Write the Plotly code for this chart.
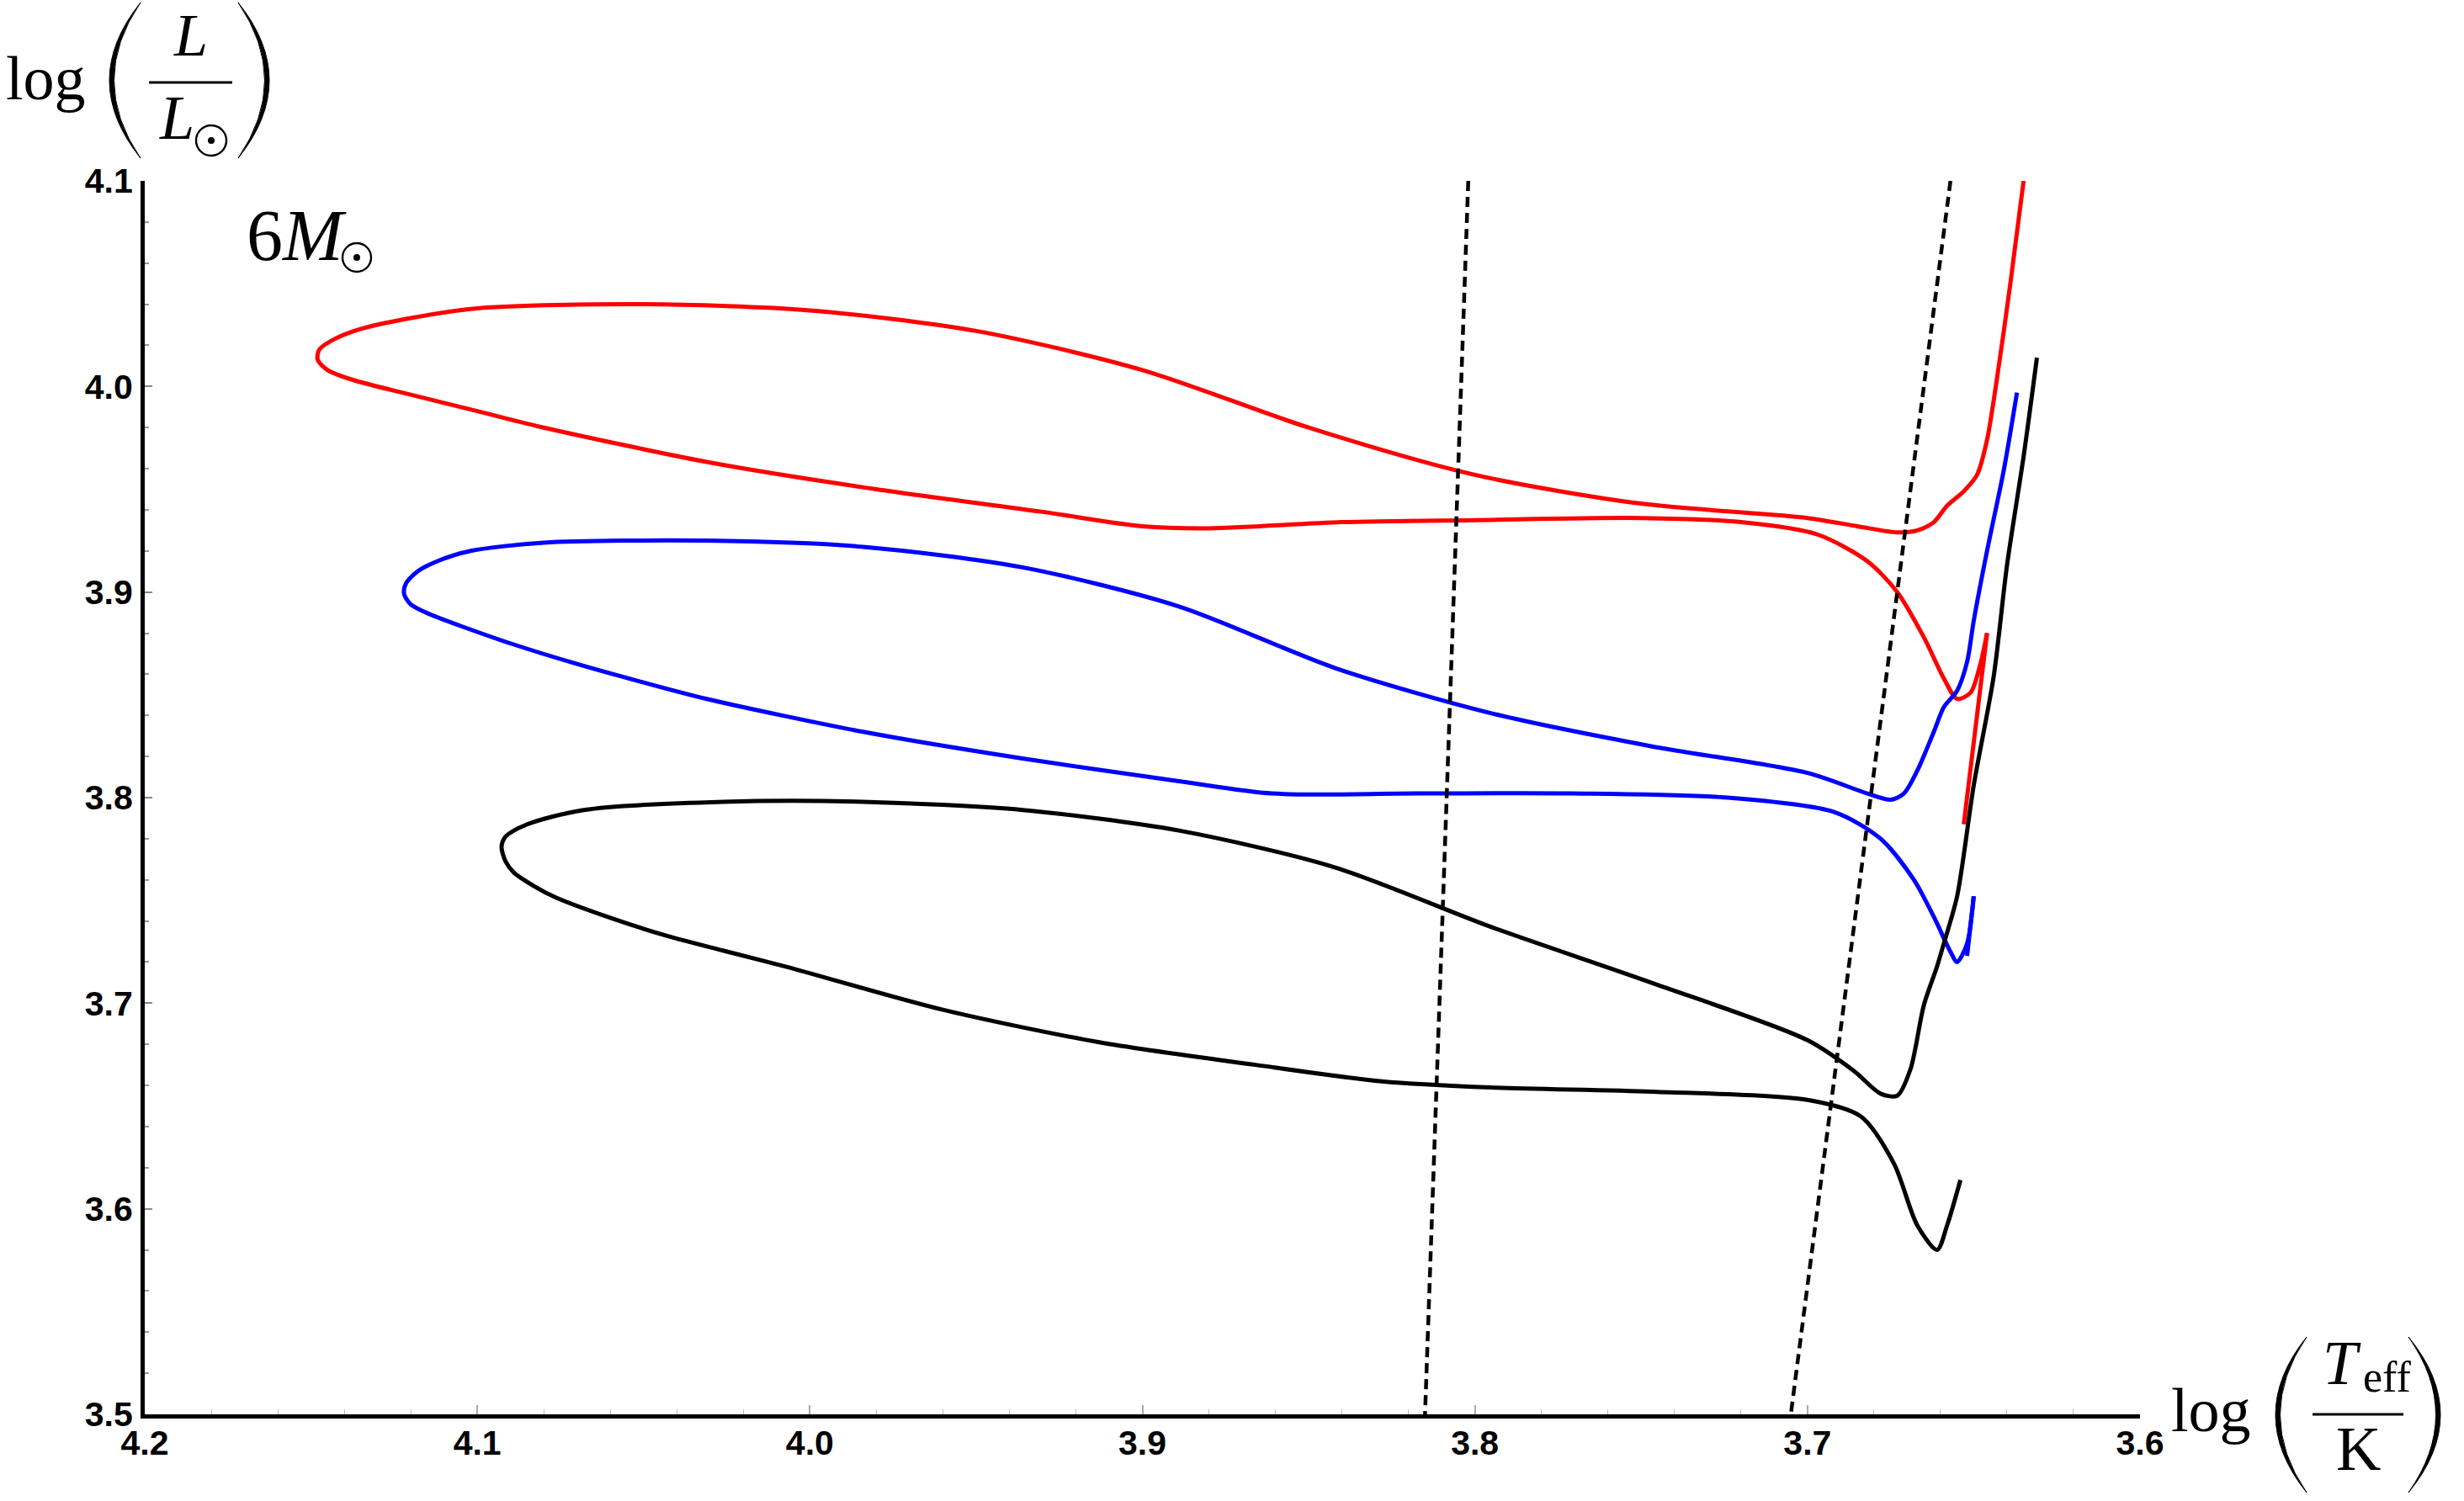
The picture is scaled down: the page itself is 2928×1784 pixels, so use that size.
import plotly.graph_objects as go

# ---------------- data (log Teff, log L/Lsun) ----------------
red_logT = [3.635, 3.639, 3.643, 3.646, 3.649, 3.653, 3.658, 3.662, 3.667, 3.673, 3.685, 3.700,
            3.750, 3.800, 3.850, 3.900, 3.950, 4.000, 4.050, 4.100, 4.121, 4.135, 4.143,
            4.1475, 4.148, 4.145, 4.137, 4.120, 4.100, 4.080, 4.030, 3.980, 3.930, 3.900,
            3.880, 3.840, 3.800, 3.750, 3.720, 3.697, 3.682, 3.673, 3.665, 3.659, 3.655,
            3.651, 3.648, 3.646]
red_logL = [4.100, 4.050, 4.004, 3.974, 3.957, 3.949, 3.942, 3.934, 3.930, 3.929, 3.932, 3.936,
            3.943, 3.957, 3.980, 4.008, 4.027, 4.037, 4.040, 4.038, 4.033, 4.028, 4.023,
            4.018, 4.013, 4.008, 4.003, 3.996, 3.988, 3.980, 3.963, 3.950, 3.939, 3.932,
            3.931, 3.934, 3.935, 3.936, 3.934, 3.928, 3.915, 3.900, 3.878, 3.858, 3.848,
            3.851, 3.865, 3.880]
red_tail_logT = [3.646, 3.653]
red_tail_logL = [3.880, 3.787]

blue_logT = [3.637, 3.641, 3.646, 3.650, 3.652, 3.655, 3.659, 3.662, 3.667, 3.671, 3.675, 3.682,
             3.700, 3.747, 3.795, 3.842, 3.889, 3.936, 3.984, 4.031, 4.080, 4.102, 4.112,
             4.118, 4.1215, 4.122, 4.120, 4.114, 4.105, 4.090, 4.070, 4.050, 4.031, 3.984,
             3.936, 3.889, 3.861, 3.818, 3.771, 3.724, 3.692, 3.678, 3.668, 3.662, 3.657,
             3.655, 3.652, 3.650]
blue_logL = [3.997, 3.959, 3.920, 3.886, 3.866, 3.852, 3.844, 3.832, 3.813, 3.802, 3.799, 3.802,
             3.812, 3.825, 3.841, 3.863, 3.893, 3.912, 3.922, 3.925, 3.924, 3.920, 3.915,
             3.910, 3.904, 3.899, 3.894, 3.889, 3.8835, 3.875, 3.865, 3.856, 3.848, 3.832,
             3.819, 3.808, 3.802, 3.802, 3.802, 3.800, 3.793, 3.780, 3.760, 3.742, 3.725,
             3.720, 3.729, 3.752]
blue_tail_logT = [3.650, 3.652]
blue_tail_logL = [3.752, 3.723]

black_logT = [3.631, 3.635, 3.640, 3.644, 3.650, 3.655, 3.659, 3.661, 3.665, 3.669, 3.673, 3.678,
              3.686, 3.700, 3.747, 3.795, 3.842, 3.889, 3.936, 3.984, 4.026, 4.068, 4.085,
              4.0915, 4.0927, 4.0915, 4.089, 4.083, 4.0765, 4.0596, 4.0429, 4.0259, 4.007,
              3.960, 3.913, 3.866, 3.828, 3.795, 3.747, 3.700, 3.684, 3.674, 3.667, 3.661,
              3.658, 3.654]
black_logL = [4.014, 3.966, 3.913, 3.859, 3.806, 3.752, 3.729, 3.718, 3.699, 3.668, 3.655, 3.656,
              3.667, 3.682, 3.710, 3.737, 3.766, 3.784, 3.794, 3.798, 3.798, 3.794, 3.787,
              3.781, 3.776, 3.769, 3.7635, 3.757, 3.7515, 3.7413, 3.7327, 3.7255, 3.7177,
              3.6968, 3.681, 3.670, 3.662, 3.659, 3.657, 3.653, 3.645, 3.622, 3.592, 3.580,
              3.592, 3.614]

strip_left_logT = [3.802, 3.815]
strip_left_logL = [4.100, 3.500]
strip_right_logT = [3.657, 3.705]
strip_right_logL = [4.100, 3.500]

x_ticks = [4.2, 4.1, 4.0, 3.9, 3.8, 3.7, 3.6]
x_tick_labels = ["4.2", "4.1", "4.0", "3.9", "3.8", "3.7", "3.6"]
y_ticks = [3.5, 3.6, 3.7, 3.8, 3.9, 4.0, 4.1]
y_tick_labels = ["3.5", "3.6", "3.7", "3.8", "3.9", "4.0", "4.1"]

# ---------------- figure ----------------
W, H = 2928, 1784
L, R, T, B = 172, 2543, 215, 1681

fig = go.Figure()
LW = 5
for xs, ys, c in [(red_logT, red_logL, "#ff0000"), (red_tail_logT, red_tail_logL, "#ff0000"),
                  (blue_logT, blue_logL, "#0000ff"), (blue_tail_logT, blue_tail_logL, "#0000ff"),
                  (black_logT, black_logL, "#000000")]:
    fig.add_trace(go.Scatter(x=xs, y=ys, mode="lines",
                             line=dict(color=c, width=LW, shape="spline", smoothing=0.8),
                             showlegend=False, hoverinfo="skip"))
for xs, ys in [(strip_left_logT, strip_left_logL), (strip_right_logT, strip_right_logL)]:
    fig.add_trace(go.Scatter(x=xs, y=ys, mode="lines",
                             line=dict(color="black", width=4.5, dash="12px,7px"),
                             showlegend=False, hoverinfo="skip"))


def px(xp):
    return (xp - L) / (R - L)


def py(yp):
    return (B - yp) / (B - T)


serif = "Liberation Serif"
ann = []
shapes = []


def text(xp, yp, s, size, xanchor="center", yanchor="middle"):
    ann.append(dict(x=px(xp), y=py(yp), xref="paper", yref="paper", text=s, showarrow=False,
                    xanchor=xanchor, yanchor=yanchor,
                    font=dict(family=serif, size=size, color="black")))


def paren(x_end, x_tip, y0, y1, thick=5.5):
    # filled crescent: ends at x_end, bulge reaching x_tip at the middle
    ym = (y0 + y1) / 2
    c_out = 2 * x_tip - x_end
    sgn = 1 if x_tip < x_end else -1
    c_in = 2 * (x_tip + sgn * thick) - x_end
    path = (f"M {px(x_end)},{py(y0)} Q {px(c_out)},{py(ym)} {px(x_end)},{py(y1)} "
            f"Q {px(c_in)},{py(ym)} {px(x_end)},{py(y0)} Z")
    shapes.append(dict(type="path", xref="paper", yref="paper", path=path,
                       fillcolor="black", line=dict(color="black", width=1)))


def odot(cx, cy, r):
    shapes.append(dict(type="circle", xref="paper", yref="paper",
                       x0=px(cx - r), x1=px(cx + r), y0=py(cy + r), y1=py(cy - r),
                       line=dict(color="black", width=2.4)))
    rd = 4
    shapes.append(dict(type="circle", xref="paper", yref="paper",
                       x0=px(cx - rd), x1=px(cx + rd), y0=py(cy + rd), y1=py(cy - rd),
                       fillcolor="black", line=dict(color="black", width=0)))


def hline(x0, x1, y):
    shapes.append(dict(type="line", xref="paper", yref="paper", x0=px(x0), x1=px(x1),
                       y0=py(y), y1=py(y), line=dict(color="black", width=3)))


# 6 M_sun label
text(352, 280, "6<i>M</i>", 86)
odot(424, 306, 17)

# y-axis title: log ( L / L_sun )
text(54, 93, "log", 74)
paren(167, 130, 3, 188)
paren(283, 320, 3, 188)
hline(177, 276, 98)
text(226, 42, "<i>L</i>", 72)
text(210, 140, "<i>L</i>", 74)
odot(251, 167, 18)

# x-axis title: log ( T_eff / K )
text(2628, 1676, "log", 74)
paren(2741, 2704, 1589, 1774)
paren(2862, 2900, 1589, 1774)
hline(2748, 2856, 1681)
text(2783, 1620, "<i>T</i>", 74)
text(2836, 1636, "eff", 52)
text(2802, 1722, "K", 74)

tickfont = dict(family="Liberation Sans", size=41, color="black", weight="bold")
fig.update_layout(
    width=W, height=H,
    margin=dict(l=L, r=W - R, t=T, b=H - B),
    paper_bgcolor="white", plot_bgcolor="white",
    annotations=ann, shapes=shapes,
    xaxis=dict(range=[4.2, 3.6], showgrid=False, zeroline=False,
               showline=True, linewidth=5, linecolor="black",
               tickmode="array", tickvals=x_ticks, ticktext=x_tick_labels,
               ticks="inside", ticklen=11, tickwidth=1.5, tickcolor="#aaaaaa",
               minor=dict(dtick=0.02, tick0=3.6, ticks="inside", ticklen=6, tickwidth=1, tickcolor="#bbbbbb"),
               tickfont=tickfont, ticklabelstandoff=-6),
    yaxis=dict(range=[3.5, 4.1], showgrid=False, zeroline=False,
               showline=True, linewidth=5, linecolor="black",
               tickmode="array", tickvals=y_ticks, ticktext=y_tick_labels,
               ticks="inside", ticklen=9, tickwidth=2, tickcolor="#888888",
               minor=dict(dtick=0.02, tick0=3.5, ticks="inside", ticklen=5, tickwidth=2, tickcolor="#999999"),
               tickfont=tickfont, ticklabelstandoff=1),
)

fig.write_html("out.html")
